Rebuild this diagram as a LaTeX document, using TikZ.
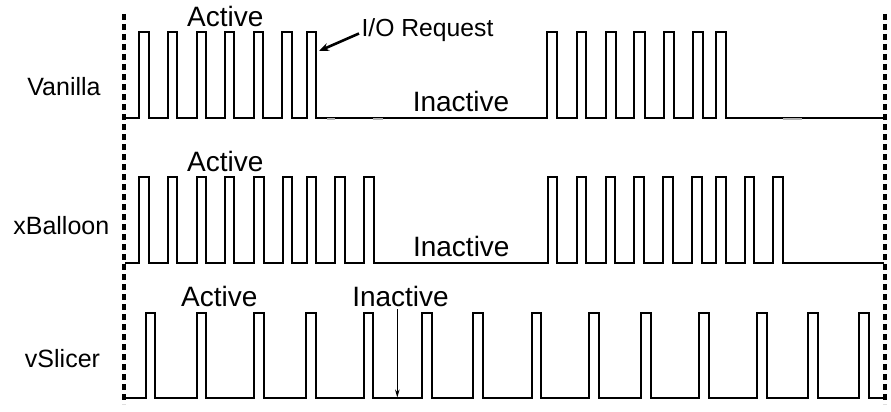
\documentclass[tikz,border=0pt]{standalone}
\usepackage{fontspec}
\setmainfont{Liberation Sans}
\usetikzlibrary{arrows.meta}
\begin{document}
\begin{tikzpicture}[x=1pt,y=-1pt,
  signal/.style={line width=1.8pt, line join=miter},
  boundary/.style={line width=4pt, dash pattern=on 6pt off 4pt},
  rowlabel/.style={anchor=base, inner sep=0pt, font=\fontsize{25}{28}\selectfont},
  phase/.style={anchor=base, inner sep=0pt, font=\fontsize{28}{30}\selectfont},
  note/.style={anchor=base, inner sep=0pt, font=\fontsize{24.7}{27}\selectfont},
  glitch/.style={line width=2.4pt, gray!60},
  pointer/.style={line width=2.6pt, -{Stealth[length=10pt,width=8pt]}},
  marker/.style={line width=1.1pt, -{Stealth[length=8pt,width=4.5pt]}}]
\useasboundingbox (0,0) rectangle (891,412);

% time window boundaries
\coordinate (winLT) at (123.5,14);
\coordinate (winLB) at (123.5,404);
\coordinate (winRT) at (885,14);
\coordinate (winRB) at (885,404);
\draw[boundary] (winLT) -- (winLB);
\draw[boundary] (winRT) -- (winRB);

% row labels
\node[rowlabel] (lblVanilla) at (64,95) {Vanilla};
\node[rowlabel] (lblBalloon) at (61.3,234.3) {xBalloon};
\node[rowlabel] (lblSlicer) at (62.5,367.3) {vSlicer};

% Vanilla trace
\def\vb{117.7}\def\vt{31.7}
\draw[signal] (125,\vb)
  foreach \a/\b in {139.3/149,167.7/176.7,196.7/206,225/234.3,254/263.3,282.3/292,306.7/316,
                    547.3/556.7,576.7/586,605.7/615.7,634.3/645,664/674,692.7/702.7,716/726}
  { -- (\a,\vb) -- (\a,\vt) -- (\b,\vt) -- (\b,\vb) } -- (884,\vb);
\draw[glitch] (327,118.8) -- (335,118.8);
\draw[glitch] (373,118.8) -- (383,118.8);
\draw[glitch] (783,118.8) -- (802,118.8);

\node[phase] (vActive) at (225.3,26.7) {Active};
\node[phase] (vInactive) at (461,111.7) {Inactive};
\node[note] (ioReq) at (427.5,36.7) {I/O Request};
\coordinate (ioTail) at (359,33.5);
\coordinate (ioHead) at (319,51);
\draw[pointer] (ioTail) -- (ioHead);

% xBalloon trace
\def\xb{263.3}\def\xt{176.7}
\draw[signal] (125,\xb)
  foreach \a/\b in {139.3/149,167.7/177.3,196.7/206,225/234.3,254.3/263.7,282.7/292.3,306.7/316,335/345,364.3/374.3,
                    547.7/556.7,576.7/585.7,605.7/615,634.3/644.3,663.3/673.3,692.3/701.7,716/725.7,745/754.3,773.3/783.3}
  { -- (\a,\xb) -- (\a,\xt) -- (\b,\xt) -- (\b,\xb) } -- (884,\xb);

\node[phase] (xActive) at (225.3,171.7) {Active};
\node[phase] (xInactive) at (461.3,256.7) {Inactive};

% vSlicer trace
\def\sb{398.3}\def\st{312.7}
\draw[signal] (125,\sb)
  foreach \a/\b in {145.7/155,196.7/206,254.3/264,306/316,364/373.3,421.7/431.7,473.3/483.3,
                    531.7/541,589.3/599.3,641/651,699/709,756.7/766.7,808.3/818.3,859.3/869.3}
  { -- (\a,\sb) -- (\a,\st) -- (\b,\st) -- (\b,\sb) } -- (884,\sb);

\node[phase] (sActive) at (219.2,306.7) {Active};
\node[phase] (sInactive) at (400.5,306.7) {Inactive};
\coordinate (sGapTop) at (397.3,309);
\coordinate (sGapBase) at (397.3,397.5);
\draw[marker] (sGapTop) -- (sGapBase);
\end{tikzpicture}
\end{document}
